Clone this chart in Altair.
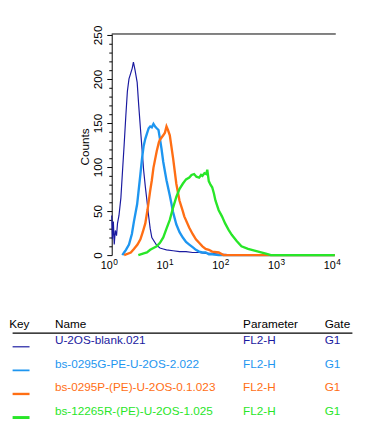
import altair as alt
import pandas as pd

# ---------------- data ----------------
series_names = ["U-2OS-blank.021", "bs-0295G-PE-U-2OS-2.022",
                "bs-0295P-(PE)-U-2OS-0.1.023", "bs-12265R-(PE)-U-2OS-1.025"]
params = ["FL2-H", "FL2-H", "FL2-H", "FL2-H"]
gates = ["G1", "G1", "G1", "G1"]

blank_x = [1.0, 1.03, 1.07, 1.11, 1.16, 1.22, 1.27, 1.35, 1.46, 1.56, 1.67, 1.79, 1.91, 2.04,
           2.18, 2.33, 2.45, 2.62, 2.86, 3.05, 3.27, 3.50, 3.74, 4.0, 4.28, 4.58, 4.90, 5.24,
           5.99, 6.41, 7.33, 8.39, 9.6, 12.6, 16.5, 21.5, 28.2, 36.9, 48.3, 63.3, 82.8, 108,
           150, 300, 10000]
blank_y = [45, 18, 38, 12, 28, 22, 36, 45, 65, 95, 125, 158, 186, 200, 206, 212, 219, 210,
           196, 170, 144, 120, 96, 78, 62, 45, 30, 20, 14, 11, 8, 7, 6, 5, 4, 4, 3, 3, 2, 2,
           1, 1, 0, 0, 0]

g_x = [1.55, 1.67, 1.8, 2.04, 2.3, 2.5, 2.86, 3.0, 3.27, 3.5, 3.74, 4.0, 4.28, 4.6, 4.9,
       5.24, 5.61, 6.0, 6.41, 6.9, 7.33, 7.8, 8.39, 9.0, 9.6, 10.98, 11.8, 12.57, 14.38,
       16.45, 18.82, 21.5, 24.6, 28.2, 32.3, 36.9, 42.3, 48.3, 55.3, 63.3, 82.8, 10000]
g_y = [0, 3, 6, 12, 24, 38, 58, 70, 92, 110, 124, 132, 138, 144, 146, 145, 149, 146, 144,
       142, 132, 121, 106, 95, 85, 68, 58, 49, 35, 26, 20, 15, 12, 9, 6, 4, 3, 3, 1, 1, 0, 0]

p_x = [1.67, 2.2, 2.5, 2.9, 3.27, 3.6, 4.0, 4.4, 4.89, 5.24, 5.6, 6.41, 7.0, 7.33, 8.4, 9.0,
       9.6, 10.2, 11.0, 12.6, 14.4, 16.4, 18.8, 20, 24.6, 28.2, 32.3, 36.9, 42.3, 48.3, 55.3,
       63.3, 83, 101, 10000]
p_y = [0, 3, 7, 12, 18, 26, 36, 52, 73, 85, 99, 118, 128, 131, 136, 139, 146, 142, 136, 110,
       81, 62, 50, 44, 31, 24, 18, 14, 10, 7, 6, 4, 3, 0, 0]

r_x = [3.0, 3.74, 4.28, 4.9, 5.6, 6.41, 7.33, 8.4, 9.6, 11.0, 12.6, 14.4, 16.4, 18.8, 21.5,
       24.6, 27, 30, 33, 36.9, 40, 42.3, 46, 49.5, 51.7, 55, 59, 63.3, 68, 72.4, 82.8, 94.8,
       108, 124, 142, 174, 212, 278, 364, 477, 625, 714, 10000]
r_y = [0, 2, 3, 6, 8, 10, 14, 20, 30, 40, 54, 66, 75, 81, 86, 88, 91, 92, 89, 88, 91, 90, 93,
       92, 97, 84, 80, 77, 70, 62, 51, 44, 36, 29, 23, 16, 10, 7, 5, 3, 1, 0, 0]

tick_vals = [1, 10, 100, 1000, 10000]
tick_base = ["10", "10", "10", "10", "10"]
tick_exps = ["0", "1", "2", "3", "4"]

# ---------------- styles ----------------
colors = ["#1a1aa0", "#1e96f0", "#ff6e14", "#28e628"]
line_widths = [1.2, 2.4, 2.4, 2.4]
key_widths = [1.2, 3.0, 3.0, 3.0]
FONT = "Liberation Sans"
W, H = 228, 226

x_minor = [m * 10 ** d for d in range(4) for m in range(1, 10)] + [10000]
y_minor = list(range(0, 251, 10))

xscale = alt.Scale(type="log", domain=[1, 10000], nice=False)
yscale = alt.Scale(domain=[0, 251], nice=False, zero=False)

x_axis = alt.Axis(
    values=x_minor, labels=False, grid=False,
    tickSize={"condition": {"test": "datum.value == 1 || datum.value == 10 || datum.value == 100 || datum.value == 1000 || datum.value == 10000", "value": 5}, "value": 3},
    tickColor="black", domainColor="black", tickWidth=1, domainWidth=1,
    title="FL2-H", titleFont=FONT, titleFontSize=11, titleFontWeight="normal",
    titleColor="black", titleX=110, titleY=31, titleAlign="center",
    titleBaseline="alphabetic", titleAnchor="middle",
)
y_axis = alt.Axis(
    values=y_minor, grid=False,
    tickSize={"condition": {"test": "datum.value % 50 === 0", "value": 5}, "value": 3},
    labelExpr="datum.value % 50 === 0 ? datum.label : ''",
    labelAngle=-90, labelAlign="center", labelBaseline="alphabetic", labelPadding=5,
    labelFont=FONT, labelFontSize=12, labelColor="black",
    tickColor="black", domainColor="black", tickWidth=1, domainWidth=1,
    title="Counts", titleFont=FONT, titleFontSize=12, titleFontWeight="normal",
    titleColor="black", titleX=-24, titleY=115, titleAngle=-90, titleAlign="center",
    titleBaseline="alphabetic",
)

xs = [blank_x, g_x, p_x, r_x]
ys = [blank_y, g_y, p_y, r_y]

layers = []
for i in range(4):
    df = pd.DataFrame({"x": xs[i], "count": ys[i]})
    layers.append(
        alt.Chart(df).mark_line(color=colors[i], strokeWidth=line_widths[i], clip=False)
        .encode(x=alt.X("x:Q", scale=xscale, axis=x_axis),
                y=alt.Y("count:Q", scale=yscale, axis=y_axis))
    )

# top frame line
frame = alt.Chart(pd.DataFrame({"a": [0]})).mark_rule(color="black", strokeWidth=1).encode(
    x=alt.value(0), x2=alt.value(W + 1), y=alt.value(0))

ticks_df = pd.DataFrame({"tick": tick_vals, "base": tick_base, "exp": tick_exps})
base_lbl = alt.Chart(ticks_df).mark_text(
    align="right", baseline="alphabetic", dx=1, font=FONT, fontSize=11, color="black"
).encode(x=alt.X("tick:Q", scale=xscale, axis=None), y=alt.value(H + 14.7), text="base:N")
exp_lbl = alt.Chart(ticks_df).mark_text(
    align="left", baseline="alphabetic", dx=1.5, font=FONT, fontSize=8.5, color="black"
).encode(x=alt.X("tick:Q", scale=xscale, axis=None), y=alt.value(H + 9.7), text="exp:N")

# key table
table_df = pd.DataFrame({"name": series_names, "param": params, "gate": gates,
                         "row": list(range(len(series_names)))})
cscale = alt.Scale(domain=series_names, range=colors)
tbase = alt.Chart(table_df).transform_calculate(
    py="316.7 + datum.row * 24.2", my="319.7 + datum.row * 24.1")
txt_kw = dict(align="left", baseline="alphabetic", font=FONT, fontSize=12)
col_name = tbase.mark_text(**txt_kw).encode(
    x=alt.value(-58), y=alt.Y("py:Q", scale=None, axis=None), text="name:N",
    color=alt.Color("name:N", scale=cscale, legend=None))
col_param = tbase.mark_text(**txt_kw).encode(
    x=alt.value(134.3), y=alt.Y("py:Q", scale=None, axis=None), text="param:N",
    color=alt.Color("name:N", scale=cscale, legend=None))
col_gate = tbase.mark_text(**txt_kw).encode(
    x=alt.value(217.7), y=alt.Y("py:Q", scale=None, axis=None), text="gate:N",
    color=alt.Color("name:N", scale=cscale, legend=None))
key_marks = tbase.mark_rule().encode(
    x=alt.value(-101.3), x2=alt.value(-84), y=alt.Y("my:Q", scale=None, axis=None),
    color=alt.Color("name:N", scale=cscale, legend=None),
    strokeWidth=alt.StrokeWidth("name:N", scale=alt.Scale(domain=series_names, range=key_widths), legend=None))

header_df = pd.DataFrame({"h": ["Key", "Name", "Parameter", "Gate"]})
hdr = []
for label, hx in zip(["Key", "Name", "Parameter", "Gate"], [-104.8, -58, 134.3, 217.7]):
    hdr.append(alt.Chart(pd.DataFrame({"h": [label]})).mark_text(color="black", **txt_kw).encode(
        x=alt.value(hx), y=alt.value(301), text="h:N"))
hline = alt.Chart(pd.DataFrame({"a": [0]})).mark_rule(color="black", strokeWidth=1.2).encode(
    x=alt.value(-101.3), x2=alt.value(246), y=alt.value(305.7))

chart = alt.layer(*layers, frame, base_lbl, exp_lbl, col_name, col_param, col_gate,
                  key_marks, *hdr, hline).properties(
    width=W, height=H,
    autosize=alt.AutoSizeParams(type="none"),
    padding={"left": 106, "top": 22, "right": 37, "bottom": 166},
    background="white",
).configure_view(stroke=None)

chart.save("out.html", embed_options={"renderer": "svg", "actions": False})
